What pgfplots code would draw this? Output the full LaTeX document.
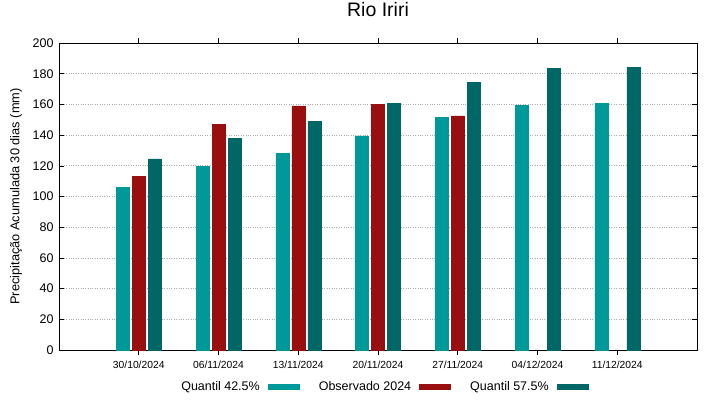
\documentclass[border=0pt]{standalone}
\usepackage{fontspec}
\setmainfont{Liberation Sans}
\usepackage{pgfplots}
\pgfplotsset{compat=1.18}
\definecolor{cA}{RGB}{0,153,153}
\definecolor{cB}{RGB}{153,14,14}
\definecolor{cC}{RGB}{0,102,102}
\pgfplotsset{swatch/.style={legend image code/.code={\path[##1, draw=none] (0bp,-3bp) rectangle (32bp,3bp);}}}
\begin{document}
\begin{tikzpicture}
\begin{axis}[
  scale only axis, width=638bp, height=307bp,
  xmin=-1, xmax=7, ymin=0, ymax=200,
  xtick={0,...,6},
  xticklabels={30/10/2024,06/11/2024,13/11/2024,20/11/2024,27/11/2024,04/12/2024,11/12/2024},
  ytick={0,20,...,200},
  tick align=inside, xtick pos=both, ytick pos=both,
  major tick length=5bp,
  axis line style={black, line width=0.8bp},
  tick style={black, line width=0.6bp},
  ymajorgrids, major grid style={dotted, gray!65, line width=0.7bp},
  /pgf/number format/assume math mode=true,
  yticklabel style={font=\fontsize{12.5bp}{14bp}\selectfont, xshift=-2bp},
  xticklabel style={font=\fontsize{10.3bp}{12bp}\selectfont, yshift=-3bp},
  ylabel={Precipitação Acumulada 30 dias (mm)},
  ylabel style={at={(axis description cs:-0.0674,0.5)}, anchor=center, font=\fontsize{12.8bp}{14bp}\selectfont},
  title={Rio Iriri},
  title style={at={(axis description cs:0.5,1)}, anchor=center, yshift=27bp, font=\fontsize{19.5bp}{22bp}\selectfont},
  legend plot pos=right,
  legend columns=3,
  legend style={at={(axis description cs:0.5,0)}, anchor=center, yshift=-37bp, xshift=6bp,
    draw=none, fill=none, font=\fontsize{12.5bp}{14bp}\selectfont,
    /tikz/every odd column/.append style={column sep=6bp},
    /tikz/every even column/.append style={column sep=17bp}},
  ybar, bar width=13bp,
]
\addplot[fill=cA, draw=cA, bar shift=-16bp, swatch] coordinates {(0,106) (1,119.5) (2,128) (3,139.5) (4,151.5) (5,159.5) (6,160.5)};
\addlegendentry{Quantil 42.5\%}
\addplot[fill=cB, draw=cB, bar shift=0bp, swatch] coordinates {(0,113) (1,147) (2,159) (3,160) (4,152.5)};
\addlegendentry{Observado 2024}
\addplot[fill=cC, draw=cC, bar shift=16bp, swatch] coordinates {(0,124.5) (1,138) (2,149) (3,160.5) (4,174.5) (5,183.5) (6,184)};
\addlegendentry{Quantil 57.5\%}
\end{axis}
\pgfresetboundingbox
\path ([shift={(-59bp,-49bp)}]current axis.south west) rectangle ([shift={(22bp,43bp)}]current axis.north east);
\end{tikzpicture}
\end{document}
